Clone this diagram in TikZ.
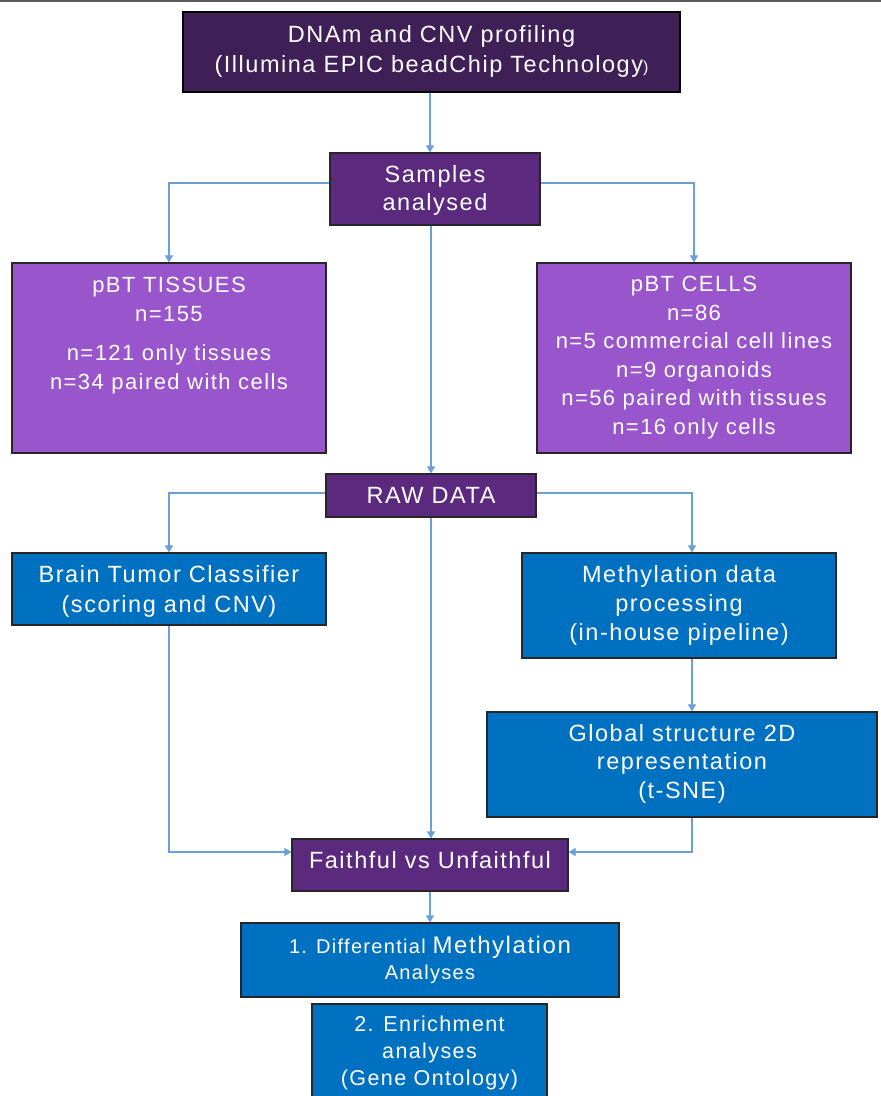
\documentclass[tikz,border=0pt]{standalone}
\usepackage{fontspec}
\setmainfont{Liberation Sans}[LetterSpace=6.5]
\usetikzlibrary{arrows.meta}
\definecolor{dkpurple}{HTML}{3E1F56}
\definecolor{midpurple}{HTML}{5B2A7E}
\definecolor{lilac}{HTML}{9955CC}
\definecolor{boxblue}{HTML}{0070C0}
\definecolor{conn}{HTML}{6A9FD8}
\definecolor{edgegray}{HTML}{262626}
\begin{document}
\begin{tikzpicture}[x=1pt,y=-1pt,
  box/.style={draw=edgegray,line width=1.2pt,inner sep=0pt},
  txt/.style={text=white,align=center,anchor=north,inner sep=0pt},
  big/.style={font=\fontsize{23.5}{29}\selectfont},
  mid/.style={font=\fontsize{22}{28.6}\selectfont},
  lnk/.style={draw=conn,line width=1.1pt},
  arr/.style={lnk,-{Triangle[width=8pt,length=7pt]}}]
\useasboundingbox[fill=white] (0,0) rectangle (881,1096);
\draw[line width=1.6pt,draw=black!65] (0,1) -- (881,1);
% boxes
\node[box,fill=dkpurple,draw=black,minimum width=497pt,minimum height=80pt] (top) at (431.5,52) {};
\node[box,fill=midpurple,minimum width=210pt,minimum height=72pt] (samp) at (435,189) {};
\node[box,fill=lilac,minimum width=314pt,minimum height=190pt] (tis) at (169,358) {};
\node[box,fill=lilac,minimum width=314pt,minimum height=190pt] (cel) at (694,358) {};
\node[box,fill=midpurple,minimum width=210pt,minimum height=43pt] (raw) at (431,495.5) {};
\node[box,fill=boxblue,minimum width=314pt,minimum height=72pt] (brain) at (169,589) {};
\node[box,fill=boxblue,minimum width=314pt,minimum height=105pt] (meth) at (679,605.5) {};
\node[box,fill=boxblue,minimum width=390pt,minimum height=105pt] (glob) at (682,764.5) {};
\node[box,fill=midpurple,minimum width=276pt,minimum height=52pt] (faith) at (430,865) {};
\node[box,fill=boxblue,minimum width=378pt,minimum height=74pt] (diff) at (430,960) {};
\node[box,fill=boxblue,minimum width=235pt,minimum height=106pt] (enr) at (429.5,1057) {};
% texts
\node[txt,big,font=\fontsize{23.5}{30}\selectfont] (toptxt) at (431.5,25) {DNAm and CNV profiling\\(Illumina EPIC beadChip Technology{\fontsize{16}{30}\selectfont)}};
\node[txt,big,font=\fontsize{23.5}{28}\selectfont] (samptxt) at (435,165) {Samples\\analysed};
\node[txt,mid] (tistxt) at (169,277) {pBT TISSUES\\n=155\\[11pt]n=121 only tissues\\n=34 paired with cells};
\node[txt,mid] (celtxt) at (694,276) {pBT CELLS\\n=86\\n=5 commercial cell lines\\n=9 organoids\\n=56 paired with tissues\\n=16 only cells};
\node[txt,big] (rawtxt) at (431,487) {RAW DATA};
\node[txt,big,font=\fontsize{23.5}{30}\selectfont] (braintxt) at (169,565) {Brain Tumor Classifier\\(scoring and CNV)};
\node[txt,big] (methtxt) at (679,565) {Methylation data\\processing\\(in-house pipeline)};
\node[txt,big,font=\fontsize{23.5}{28.5}\selectfont] (globtxt) at (682,724) {Global structure 2D\\representation\\(t-SNE)};
\node[txt,big] (faithtxt) at (430,851) {Faithful vs Unfaithful};
\node[txt,font=\fontsize{20}{26}\selectfont] (difftxt) at (430,935.5) {1. Differential {\fontsize{24}{26}\selectfont Methylation}\\Analyses};
\node[txt,font=\fontsize{21.5}{27}\selectfont] (enrtxt) at (429.5,1015.5) {2. Enrichment\\analyses\\(Gene Ontology)};
% connectors
\coordinate (mline) at (692,0);
\draw[arr] (top.south -| 430,0) -- (samp.north -| 430,0);
\draw[arr] ([yshift=6pt]samp.west) -| (tis.north);
\draw[arr] ([yshift=6pt]samp.east) -| (cel.north);
\draw[arr] (samp.south -| raw.north) -- (raw.north);
\draw[arr] ([yshift=2.5pt]raw.west) -| (brain.north);
\draw[arr] ([yshift=2.5pt]raw.east) -| (meth.north -| mline);
\draw[arr] (meth.south -| mline) -- (glob.north -| mline);
\draw[arr] (brain.south) |- ([yshift=13pt]faith.west);
\draw[arr] (raw.south) -- (raw.south |- faith.north);
\draw[arr] (glob.south -| mline) |- ([yshift=13pt]faith.east);
\draw[arr] (faith.south) -- (diff.north);
\end{tikzpicture}
\end{document}
